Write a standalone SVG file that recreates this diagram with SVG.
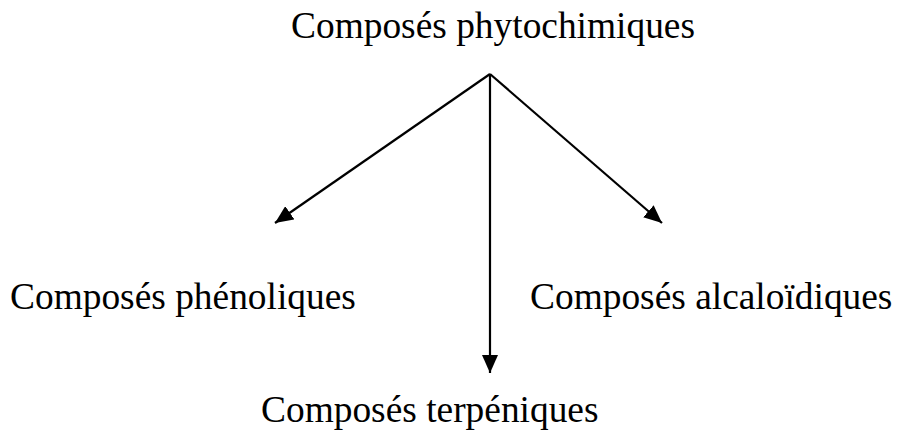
<svg xmlns="http://www.w3.org/2000/svg" width="899" height="438" viewBox="0 0 899 438">
<style>
text{font-family:"Liberation Serif","Times New Roman",serif;font-size:37.4px;fill:#000}
.c{stroke:#000;stroke-width:2.2;fill:none}
</style>
<defs>
<marker id="ah" markerUnits="userSpaceOnUse" markerWidth="20" markerHeight="16" refX="18" refY="8" orient="auto">
<path d="M0,0 L18,8 L0,16 Z" fill="#000"/>
</marker>
</defs>
<rect width="899" height="438" fill="#fff"/>
<g id="connectors">
<line class="c" x1="490" y1="74" x2="275" y2="223" marker-end="url(#ah)"/>
<line class="c" x1="490" y1="74" x2="662" y2="223" marker-end="url(#ah)"/>
<line class="c" x1="490" y1="74" x2="490" y2="373" marker-end="url(#ah)"/>
</g>
<g id="n-root"><text x="291" y="38">Composés phytochimiques</text></g>
<g id="n-phen"><text x="10" y="309">Composés phénoliques</text></g>
<g id="n-alc"><text x="530" y="309">Composés alcaloïdiques</text></g>
<g id="n-terp"><text x="261" y="422">Composés terpéniques</text></g>
</svg>
